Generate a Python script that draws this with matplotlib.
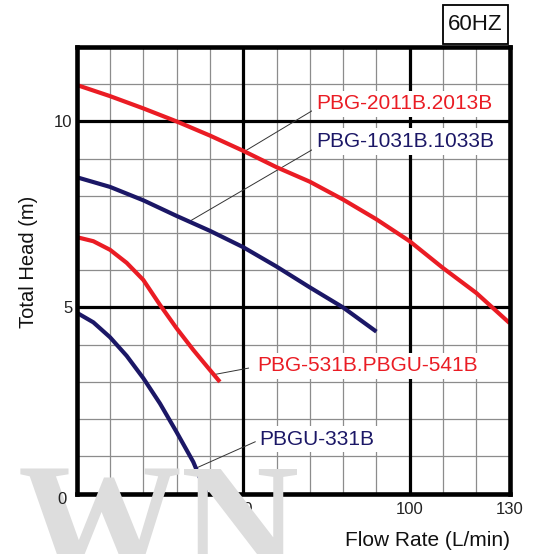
import matplotlib
matplotlib.use('Agg')
import matplotlib.pyplot as plt
from matplotlib.patches import Rectangle

# ---- data ----
flow_2011 = [0, 10, 20, 30, 40, 50, 60, 70, 80, 90, 100, 110, 120, 130]
head_2011 = [10.98, 10.68, 10.35, 10.0, 9.62, 9.21, 8.77, 8.38, 7.9, 7.37, 6.78, 6.06, 5.39, 4.58]
flow_1031 = [0, 10, 20, 30, 40, 50, 60, 70, 80, 90]
head_1031 = [8.5, 8.24, 7.88, 7.46, 7.06, 6.62, 6.1, 5.54, 5.0, 4.35]
flow_531 = [0, 5, 10, 15, 20, 25, 30, 35, 40, 43]
head_531 = [6.89, 6.78, 6.55, 6.2, 5.74, 5.07, 4.44, 3.86, 3.32, 3.0]
flow_331 = [0, 5, 10, 15, 20, 25, 30, 35, 39]
head_331 = [4.86, 4.6, 4.2, 3.7, 3.1, 2.42, 1.65, 0.85, 0.0]

series_labels = ["PBG-2011B.2013B", "PBG-1031B.1033B", "PBG-531B.PBGU-541B", "PBGU-331B"]
x_ticks = [50, 100, 130]
y_ticks = [5, 10]

RED = '#ea1c24'
NAVY = '#1b1766'
FONT = ['Liberation Sans', 'DejaVu Sans']

plt.rcParams['font.family'] = FONT

W, H = 533, 554
fig = plt.figure(figsize=(W / 100, H / 100), dpi=100)

# watermark (light grey, behind everything)
fig.text(18 / W, -0.04, 'WN', fontfamily=['Liberation Serif', 'DejaVu Serif'],
         fontweight='bold', fontsize=118, color='#dddddd', ha='left', va='baseline', zorder=0)

L, R, T, B = 76.7, 509.6, 47.0, 493.5
ax = fig.add_axes([L / W, 1 - B / H, (R - L) / W, (B - T) / H])
ax.patch.set_alpha(0)
ax.set_xlim(0, 130)
ax.set_ylim(0, 12)

# grid
for xv in range(10, 130, 10):
    if xv in (50, 100):
        ax.axvline(xv, color='black', lw=2.3, zorder=2)
    else:
        ax.axvline(xv, color='#8c8c8c', lw=0.9, zorder=1)
for yv in range(1, 12):
    if yv in (5, 10):
        ax.axhline(yv, color='black', lw=2.3, zorder=2)
    else:
        ax.axhline(yv, color='#8c8c8c', lw=0.9, zorder=1)

# curves
kw = dict(lw=3.0, zorder=4, solid_capstyle='butt', solid_joinstyle='round')
ax.plot(flow_2011, head_2011, color=RED, **kw)
ax.plot(flow_1031, head_1031, color=NAVY, **kw)
ax.plot(flow_531, head_531, color=RED, **kw)
ax.plot(flow_331, head_331, color=NAVY, **kw)

# leader lines
lw_lead = 0.7
ax.plot([50.5, 71.5], [9.2, 10.33], color='#333333', lw=lw_lead, zorder=3)
ax.plot([34.0, 71.5], [7.32, 9.28], color='#333333', lw=lw_lead, zorder=3)
ax.plot([41.5, 51.6], [3.2, 3.37], color='#333333', lw=lw_lead, zorder=3)
ax.plot([36.3, 53.6], [0.7, 1.39], color='#333333', lw=lw_lead, zorder=3)

# series labels with white backgrounds
bb = dict(fc='white', ec='none', pad=2.5)
ax.text(71.8, 10.47, series_labels[0], color=RED, fontsize=15, va='center', ha='left', bbox=bb, zorder=5)
ax.text(71.8, 9.46, series_labels[1], color=NAVY, fontsize=15, va='center', ha='left', bbox=bb, zorder=5)
ax.text(54.2, 3.43, series_labels[2], color=RED, fontsize=15, va='center', ha='left', bbox=bb, zorder=5)
ax.text(54.8, 1.46, series_labels[3], color=NAVY, fontsize=15, va='center', ha='left', bbox=bb, zorder=5)

# spines
for s in ax.spines.values():
    s.set_linewidth(3.3)
    s.set_color('black')
    s.set_zorder(6)

ax.set_xticks(x_ticks)
ax.set_xticklabels([str(v) for v in x_ticks])
ax.set_yticks(y_ticks)
ax.set_yticklabels([str(v) for v in y_ticks])
ax.tick_params(length=0, labelsize=12, colors='#222222')
ax.tick_params(axis='x', pad=6)
ax.tick_params(axis='y', pad=3)

fig.text(62 / W, 1 - 500 / H, '0', fontsize=12, color='#222222', ha='center', va='center')

# axis titles
fig.text(510 / W, 1 - 541 / H, 'Flow Rate (L/min)', fontsize=15, ha='right', va='center', color='#111111')
fig.text(28 / W, 1 - 262 / H, 'Total Head (m)', fontsize=14.5, rotation=90, ha='center', va='center', color='#111111')

# 60HZ box
fig.patches.append(Rectangle((443 / W, 1 - 43.5 / H), 64.5 / W, 38.5 / H, transform=fig.transFigure,
                             fill=False, ec='black', lw=1.3))
fig.text(475.5 / W, 1 - 25 / H, '60HZ', fontsize=16, ha='center', va='center', color='#111111')

fig.savefig('out.png', dpi=100)
